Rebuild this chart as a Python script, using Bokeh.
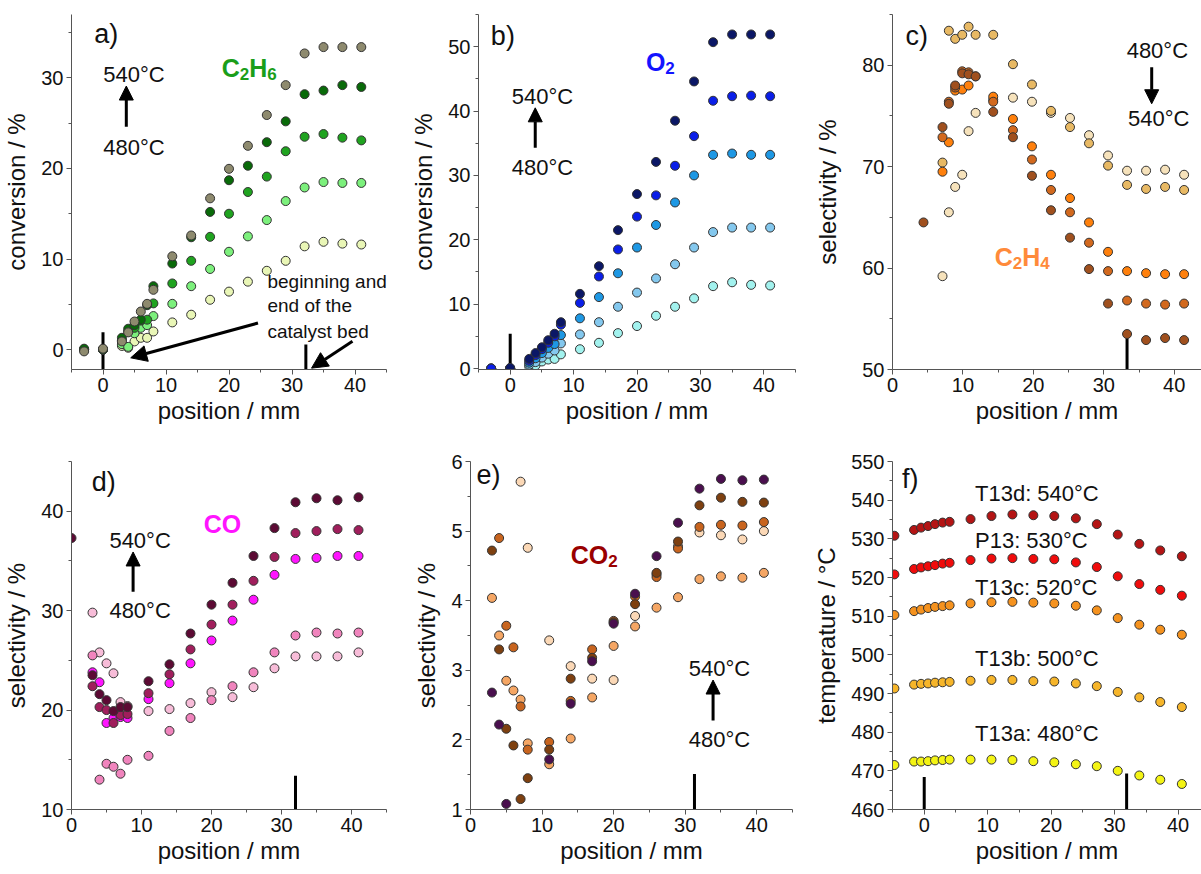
from bokeh.plotting import figure
from bokeh.layouts import row, column
from bokeh.models import Range1d, FixedTicker, Label, Arrow, NormalHead
from bokeh.embed import file_html
from bokeh.resources import INLINE

nan = float("nan")
FONT = "Liberation Sans"

# ---------------- data ----------------
temps = ["480", "500", "520", "530", "540"]

# a) C2H6 conversion
pos_a = [-3, 0, 3, 4, 5, 6, 7, 8, 11, 14, 17, 20, 23, 26, 29, 32, 35, 38, 41]
a_480 = [0.0, 0.0, 0.4, 0.2, 0.9, 1.3, 1.3, 2.0, 3.0, 3.85, 5.5, 6.4, 7.5, 8.7, 9.8, 11.4, 11.9, 11.7, 11.6]
a_500 = [0.0, 0.0, 0.6, 0.3, 1.8, 2.4, 2.7, 3.7, 5.05, 7.0, 8.9, 10.8, 12.5, 14.3, 16.4, 17.9, 18.5, 18.4, 18.4]
a_520 = [0.0, 0.0, 1.0, 2.0, 2.4, 3.2, 3.3, 5.1, 7.3, 9.8, 12.45, 15.0, 17.4, 19.1, 21.9, 23.5, 23.8, 23.4, 23.1]
a_530 = [0.1, 0.0, 1.3, 2.3, 2.7, 3.3, 4.9, 7.0, 9.5, 12.4, 15.2, 18.7, 20.3, 22.9, 25.2, 28.2, 28.6, 29.2, 29.0]
a_540 = [-0.2, 0.1, 0.9, 1.9, 3.1, 4.2, 5.05, 6.6, 10.3, 12.6, 16.7, 19.96, 22.5, 25.9, 29.2, 32.7, 33.4, 33.4, 33.4]
col_a = ["#e9f6b6", "#7cf07c", "#1fa31f", "#096a09", "#8e8a6e"]

# b) O2 conversion
pos_b = [-3, 0, 3, 4, 5, 6, 7, 8, 11, 14, 17, 20, 23, 26, 29, 32, 35, 38, 41]
b_480 = [0.0, 0.0, 0.3, 0.5, 1.1, 1.4, 1.5, 2.2, 3.0, 4.0, 5.5, 6.6, 8.2, 9.6, 10.9, 12.8, 13.4, 13.0, 12.9]
b_500 = [0.0, 0.0, 0.6, 1.0, 1.7, 2.3, 2.8, 3.9, 5.3, 7.2, 9.6, 11.8, 14.0, 16.2, 18.8, 21.2, 21.9, 21.9, 21.9]
b_520 = [0.0, 0.0, 0.9, 1.6, 2.4, 3.2, 3.8, 5.2, 7.8, 11.1, 14.8, 18.8, 22.3, 25.8, 30.0, 33.2, 33.4, 33.2, 33.2]
b_530 = [0.0, 0.0, 1.2, 2.1, 3.0, 4.0, 5.0, 6.8, 10.2, 14.3, 18.5, 23.6, 26.9, 31.5, 36.1, 41.6, 42.3, 42.4, 42.3]
b_540 = [nan, 0.1, 1.5, 2.4, 3.3, 4.4, 5.4, 7.2, 11.6, 15.9, 21.5, 27.1, 32.1, 38.5, 44.6, 50.7, 51.9, 51.9, 51.9]
col_b = ["#a2f2ee", "#84c8ee", "#1e98e4", "#0a1ee8", "#0b1766"]

# c) C2H4 selectivity
pos_c = [4.4, 7.1, 8.0, 8.9, 9.9, 10.8, 11.8, 14.3, 17.1, 19.8, 22.5, 25.2, 27.9, 30.6, 33.3, 36.0, 38.7, 41.4]
c_480 = [nan, 59.2, 65.5, 68.0, 69.2, 73.5, 75.3, 76.6, 76.8, 76.4, 75.3, 74.8, 73.1, 71.1, 69.6, 69.6, 69.7, 69.2]
c_500 = [nan, 70.4, 83.4, 82.6, 83.0, 83.8, 83.0, 83.0, 80.1, 78.1, 75.5, 73.9, 72.3, 70.1, 68.2, 67.8, 68.0, 67.7]
c_520 = [nan, 69.5, 72.4, 77.5, 77.6, 78.0, nan, 76.9, 74.7, 72.0, 69.2, 66.9, 64.5, 61.6, 59.7, 59.5, 59.4, 59.4]
c_530 = [nan, 72.9, 76.4, 77.8, 79.4, 79.3, 78.9, 76.4, 73.6, 70.7, 67.7, 65.5, 62.5, 59.7, 56.8, 56.5, 56.4, 56.5]
c_540 = [64.5, 73.9, 76.2, 78.0, 79.2, 79.1, 78.9, 75.4, 72.9, 69.1, 65.7, 63.0, 59.9, 56.5, 53.5, 52.9, 53.1, 52.9]
col_c = ["#f6e2bb", "#e8b964", "#ff800c", "#d2691e", "#a0501e"]

# d) CO selectivity
pos_d = [0, 3, 4, 5, 6, 7, 8, 11, 14, 17, 20, 23, 26, 29, 32, 35, 38, 41]
d_480 = [nan, 29.8, 25.8, 24.7, 23.7, 20.8, 20.4, 19.9, 20.1, 20.7, 21.8, 21.3, 22.3, 24.2, 25.4, 25.4, 25.4, 25.8]
d_500 = [nan, 25.5, 13.0, 14.6, 14.3, 13.6, 15.0, 15.4, 17.9, 19.2, 21.0, 22.4, 23.8, 25.8, 27.5, 27.8, 27.7, 27.8]
d_520 = [nan, 23.8, 22.8, 18.7, 19.2, 19.3, 19.2, 21.1, 22.7, 24.7, 27.0, 29.0, 31.1, 33.6, 35.2, 35.3, 35.5, 35.5]
d_530 = [nan, 22.4, 20.3, 20.0, 18.7, 19.5, 19.6, 21.7, 23.6, 26.1, 28.6, 30.6, 33.0, 35.4, 37.8, 38.0, 38.2, 38.1]
d_540 = [37.3, 23.5, 21.6, 21.0, 19.9, 20.3, 20.3, 22.9, 24.6, 27.7, 30.6, 32.8, 35.5, 38.3, 40.9, 41.3, 41.1, 41.4]
col_d = ["#f7bcd8", "#f084bd", "#ff14ff", "#a01e5c", "#5c0a34"]

# e) CO2 selectivity
pos_e = [3, 4, 5, 6, 7, 8, 11, 14, 17, 20, 23, 26, 29, 32, 35, 38, 41]
e_480 = [nan, nan, nan, nan, 5.71, 4.76, 3.43, 3.06, 2.88, 2.86, 3.78, 4.38, 4.78, 4.98, 4.94, 4.88, 5.0]
e_500 = [4.04, 3.5, 2.85, 2.71, 2.58, 1.95, 1.65, 2.02, 2.61, 3.35, 3.63, 3.90, 4.05, 4.31, 4.35, 4.33, 4.40]
e_520 = [nan, 4.9, 3.64, 3.33, 2.48, 1.86, 1.97, 2.56, 3.30, 3.71, 4.06, 4.34, 4.75, 5.06, 5.09, 5.08, 5.13]
e_530 = [4.72, 3.3, 2.16, 1.92, 1.15, 1.45, 1.86, 2.88, 3.18, 3.69, 3.95, 4.40, 4.85, 5.37, 5.48, 5.42, 5.41]
e_540 = [2.68, 2.22, 1.08, nan, nan, nan, 1.72, 2.52, 3.13, 3.67, 4.10, 4.64, 5.12, 5.61, 5.75, 5.73, 5.74]
col_e = ["#fbd8b6", "#f5a664", "#c8641e", "#7e4010", "#4a0f4e"]

# f) temperature profiles
pos_f = [-4.7, -1.6, -0.5, 0.6, 1.7, 2.9, 4.0, 7.3, 10.6, 13.9, 17.2, 20.5, 23.9, 27.2, 30.5, 33.9, 37.2, 40.6]
f_T13a = [471.5, 472.4, 472.4, 472.5, 472.7, 472.8, 472.9, 472.9, 472.9, 472.8, 472.5, 472.2, 471.7, 471.2, 470.0, 468.8, 467.7, 466.6]
f_T13b = [491.3, 492.3, 492.5, 492.6, 492.8, 492.9, 493.0, 493.3, 493.5, 493.5, 493.2, 493.1, 492.6, 491.9, 490.4, 489.0, 487.8, 486.5]
f_T13c = [510.3, 511.3, 511.7, 512.1, 512.4, 512.6, 512.8, 513.3, 513.6, 513.7, 513.5, 513.3, 512.7, 511.5, 509.5, 507.8, 506.5, 505.2]
f_P13 = [520.8, 522.2, 522.6, 522.9, 523.2, 523.6, 523.8, 524.5, 524.9, 525.0, 524.8, 524.7, 523.9, 522.7, 520.3, 518.3, 516.8, 515.3]
f_T13d = [530.8, 532.3, 532.9, 533.3, 533.8, 534.2, 534.4, 535.1, 535.9, 536.3, 536.1, 535.9, 535.3, 533.8, 531.1, 528.7, 527.0, 525.5]
col_f = ["#f4f414", "#f6b52a", "#f5921e", "#f00c0c", "#b41414"]
labels_f = ["T13a: 480°C", "T13b: 500°C", "T13c: 520°C", "P13: 530°C", "T13d: 540°C"]
label_y_f = [479.6, 499.1, 517.5, 529.6, 541.6]

# catalyst bed markers (x position, top of marker)
bed_a_x, bed_a_top = [0, 32.2], [1.9, 0.55]
bed_b_x, bed_b_top = [0], [5.4]
bed_c_x, bed_c_top = [33.3], [53.4]
bed_d_x, bed_d_top = [32], [13.4]
bed_e_x, bed_e_top = [31.3], [1.51]
bed_f_x, bed_f_top = [0, 31.9], [468.4, 469.3]

AX = "#555555"
TXT = "#111111"


def make_fig(w, h, xr, yr, bl, br, bt, bb, xt, xmt, yt, ymt, ylabel, ystand=8):
    p = figure(width=w, height=h, x_range=Range1d(*xr), y_range=Range1d(*yr),
               output_backend="svg", toolbar_location=None,
               min_border_left=bl, min_border_right=br, min_border_top=bt, min_border_bottom=bb)
    p.outline_line_color = None
    p.xgrid.visible = False
    p.ygrid.visible = False
    p.xaxis.ticker = FixedTicker(ticks=xt, minor_ticks=xmt)
    p.yaxis.ticker = FixedTicker(ticks=yt, minor_ticks=ymt)
    p.xaxis.axis_label = "position / mm"
    p.yaxis.axis_label = ylabel
    for ax in (p.xaxis[0], p.yaxis[0]):
        ax.axis_line_color = AX
        ax.major_tick_line_color = AX
        ax.minor_tick_line_color = AX
        ax.major_tick_out = 5
        ax.major_tick_in = 0
        ax.minor_tick_out = 3
        ax.minor_tick_in = 0
        ax.major_label_text_font = FONT
        ax.major_label_text_font_size = "20px"
        ax.major_label_text_color = TXT
        ax.axis_label_text_font = FONT
        ax.axis_label_text_font_size = "24px"
        ax.axis_label_text_font_style = "normal"
        ax.axis_label_text_color = TXT
        ax.major_label_standoff = 3
    p.xaxis.axis_label_standoff = 2
    p.yaxis.axis_label_standoff = ystand
    return p


def plot_series(p, x, series, colors):
    for ys, c in zip(series, colors):
        p.scatter(x, ys, size=9, fill_color=c, line_color="#333333", line_width=1)


def bed(p, xs, tops, ymin):
    p.segment(x0=xs, y0=[ymin] * len(xs), x1=xs, y1=tops, line_width=3, line_color="black")


def txt(p, x, y, s, size=22, align="center", baseline="middle"):
    p.add_layout(Label(x=x, y=y, text=s, text_font=FONT, text_font_size=f"{size}px",
                       text_color=TXT, text_align=align, text_baseline=baseline))


def arrow(p, x0, y0, x1, y1, size=14, lw=3):
    p.add_layout(Arrow(end=NormalHead(size=size, fill_color="black", line_color="black"),
                       x_start=x0, y_start=y0, x_end=x1, y_end=y1,
                       line_width=lw, line_color="black"))


BOLD_W = {"C": 0.722, "H": 0.722, "O": 0.778, "2": 0.556, "4": 0.556, "6": 0.556}


def chem(p, x, y, parts, color, main=25, sub=17):
    off = 0.0
    for s, is_sub in parts:
        size = sub if is_sub else main
        p.add_layout(Label(x=x, y=y, x_offset=off, y_offset=-6 if is_sub else 0, text=s,
                           text_font=FONT, text_font_style="bold", text_font_size=f"{size}px",
                           text_color=color, text_align="left", text_baseline="alphabetic"))
        off += sum(BOLD_W[c] for c in s) * size


X10 = [0, 10, 20, 30, 40]
XM = [-5, 5, 15, 25, 35, 45]

# ---- a ----
pa = make_fig(400, 435, (-5, 45), (-2.2, 37), 69, 14, 13, 65, X10, XM,
              [0, 10, 20, 30], [5, 15, 25, 35], "conversion / %")
bed(pa, bed_a_x, bed_a_top, -2.2)
plot_series(pa, pos_a, [a_480, a_500, a_520, a_530, a_540], col_a)
txt(pa, -1.4, 34.8, "a)", size=27, align="left")
txt(pa, 4.9, 30.4, "540°C")
txt(pa, 4.9, 22.3, "480°C")
arrow(pa, 3.7, 24.6, 3.7, 29.1)
chem(pa, 18.85, 31.1, [("C", False), ("2", True), ("H", False), ("6", True)], "#1a9e1a")
txt(pa, 26.1, 7.5, "beginning and", size=19, align="left")
txt(pa, 26.1, 4.84, "end of the", size=19, align="left")
txt(pa, 26.1, 2.0, "catalyst bed", size=19, align="left")
arrow(pa, 24.6, 2.93, 4.4, -0.91, size=16, lw=3)
arrow(pa, 39.6, 0.91, 33.1, -2.05, size=16, lw=3)

# ---- b ----
pb = make_fig(400, 435, (-5, 45), (-0.15, 55), 78, 5, 13, 66, X10, XM,
              [0, 10, 20, 30, 40, 50], [5, 15, 25, 35, 45, 55], "conversion / %")
bed(pb, bed_b_x, bed_b_top, -0.15)
plot_series(pb, pos_b, [b_480, b_500, b_520, b_530, b_540], col_b)
txt(pb, -3.05, 51.7, "b)", size=27, align="left")
txt(pb, 5.1, 42.3, "540°C")
txt(pb, 5.1, 31.2, "480°C")
arrow(pb, 3.95, 34.3, 3.95, 40.5)
chem(pb, 21.4, 47.6, [("O", False), ("2", True)], "#1414ff")

# ---- c ----
pc = make_fig(401, 435, (0, 43.87), (50, 85), 92, 0, 14, 64, X10, [5, 15, 25, 35, 45],
              [50, 60, 70, 80], [55, 65, 75, 85], "selectivity / %", ystand=18)
bed(pc, bed_c_x, bed_c_top, 50)
plot_series(pc, pos_c, [c_480, c_500, c_520, c_530, c_540], col_c)
txt(pc, 1.85, 82.9, "c)", size=27, align="left")
txt(pc, 37.6, 81.5, "480°C")
txt(pc, 37.8, 74.7, "540°C")
arrow(pc, 36.8, 79.8, 36.8, 76.2)
chem(pc, 14.5, 61.1, [("C", False), ("2", True), ("H", False), ("4", True)], "#ff8a3a")

# ---- d ----
pd_ = make_fig(400, 439, (0, 45), (10, 45), 69, 14, 18, 65, X10, XM,
               [10, 20, 30, 40], [15, 25, 35, 45], "selectivity / %")
bed(pd_, bed_d_x, bed_d_top, 10)
plot_series(pd_, pos_d, [d_480, d_500, d_520, d_530, d_540], col_d)
txt(pd_, 2.9, 42.9, "d)", size=27, align="left")
txt(pd_, 9.8, 37.1, "540°C")
txt(pd_, 9.8, 30.0, "480°C")
arrow(pd_, 8.8, 31.9, 8.8, 35.9)
chem(pd_, 18.9, 38.7, [("CO", False)], "#ff14ff")

# ---- e ----
pe = make_fig(400, 439, (0, 45), (1, 6), 70, 8, 26, 58, X10, XM,
              [1, 2, 3, 4, 5, 6], [1.5, 2.5, 3.5, 4.5, 5.5], "selectivity / %")
bed(pe, bed_e_x, bed_e_top, 1)
plot_series(pe, pos_e, [e_480, e_500, e_520, e_530, e_540], col_e)
txt(pe, 0.84, 5.81, "e)", size=27, align="left")
txt(pe, 34.8, 3.03, "540°C")
txt(pe, 34.8, 2.0, "480°C")
arrow(pe, 33.9, 2.28, 33.9, 2.86)
chem(pe, 14.0, 4.66, [("CO", False), ("2", True)], "#990000")

# ---- f ----
pf = make_fig(401, 439, (-5, 43.7), (460, 550), 92, 0, 23, 59, X10, XM,
              list(range(460, 551, 10)), list(range(465, 550, 10)), "temperature / °C")
bed(pf, bed_f_x, bed_f_top, 460)
plot_series(pf, pos_f, [f_T13a, f_T13b, f_T13c, f_P13, f_T13d], col_f)
txt(pf, -3.5, 545.6, "f)", size=27, align="left")
for lab, ly in zip(labels_f, label_y_f):
    txt(pf, 8.0, ly, lab, align="left")

layout = column(row(pa, pb, pc), row(pd_, pe, pf))
open("out.html", "w").write(file_html(layout, INLINE))
